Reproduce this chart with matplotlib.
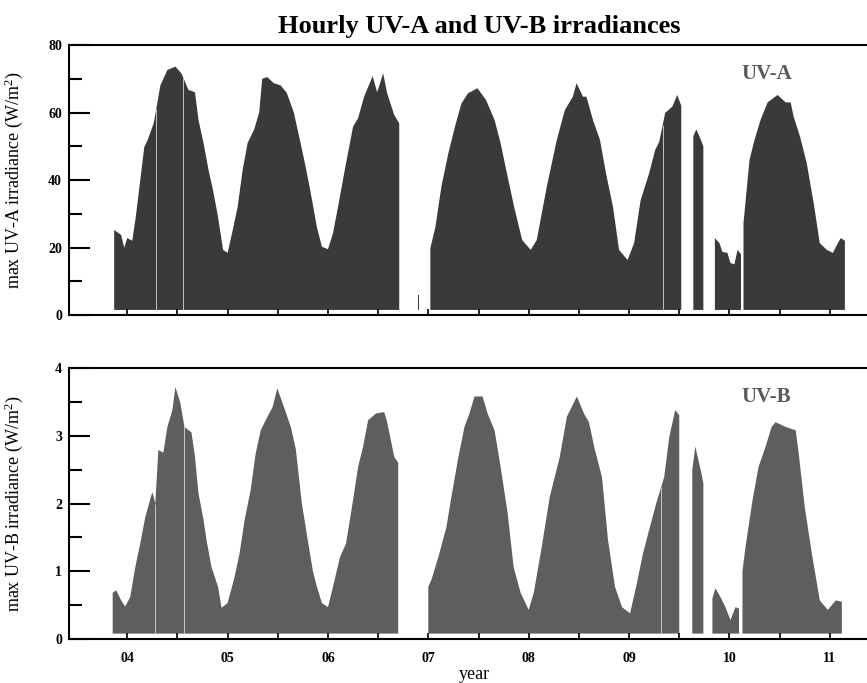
import matplotlib
matplotlib.use("Agg")
import matplotlib.pyplot as plt
import numpy as np

nan = np.nan

# upper envelope of hourly max UV-A (W/m2); nan = data gap
uva_t = [2003.87, 2003.94, 2003.97, 2004.00, 2004.05, 2004.085, 2004.12, 2004.17, 2004.20,
         2004.265, 2004.33, 2004.40, 2004.48, 2004.54, 2004.61, 2004.675, 2004.71, 2004.76,
         2004.81, 2004.855, 2004.905, 2004.955, 2005.00, 2005.05, 2005.10, 2005.15, 2005.20,
         2005.265, 2005.315, 2005.345, 2005.395, 2005.46, 2005.53, 2005.59, 2005.66, 2005.72,
         2005.77, 2005.82, 2005.89, 2005.94, 2006.00, 2006.05, 2006.10, 2006.18, 2006.25,
         2006.30, 2006.36, 2006.445, 2006.49, 2006.55, 2006.59, 2006.66, 2006.71, 2006.72,
         2006.900, 2006.906, 2006.91,
         2007.02, 2007.07, 2007.13, 2007.20, 2007.265, 2007.33, 2007.395, 2007.49, 2007.575,
         2007.66, 2007.72, 2007.79, 2007.855, 2007.935, 2008.02, 2008.08, 2008.18, 2008.28,
         2008.36, 2008.44, 2008.477, 2008.54, 2008.575, 2008.64, 2008.71, 2008.77, 2008.84,
         2008.90, 2008.985, 2009.05, 2009.115, 2009.20, 2009.26, 2009.30, 2009.36, 2009.43,
         2009.48, 2009.52, 2009.53,
         2009.64, 2009.67, 2009.70, 2009.74, 2009.75,
         2009.855, 2009.90, 2009.93, 2009.98, 2010.01, 2010.05, 2010.08, 2010.115, 2010.125,
         2010.14, 2010.20, 2010.25, 2010.31, 2010.38, 2010.48, 2010.56, 2010.61, 2010.64,
         2010.705, 2010.77, 2010.84, 2010.90, 2010.97, 2011.03, 2011.08, 2011.11, 2011.15]
uva_max = [25.2, 23.7, 19.9, 22.8, 22.0, 29.0, 37.6, 49.8, 51.6,
           56.9, 68.0, 72.6, 73.6, 71.6, 66.7, 66.0, 57.8, 51.0,
           43.0, 37.0, 29.0, 19.3, 18.4, 25.0, 32.0, 43.0, 51.0,
           55.0, 60.0, 70.0, 70.5, 68.7, 68.0, 65.8, 60.0, 51.9,
           45.0, 37.5, 26.0, 20.2, 19.5, 24.2, 32.0, 45.0, 55.8,
           58.3, 64.7, 70.8, 66.0, 71.6, 65.7, 59.3, 56.8, nan,
           5.9, 5.9, nan,
           19.8, 26.0, 38.0, 48.0, 55.8, 62.7, 65.7, 67.2, 63.7,
           57.8, 50.9, 41.0, 32.0, 22.2, 19.3, 22.2, 38.0, 51.9,
           60.7, 64.7, 68.7, 64.7, 64.7, 57.8, 51.9, 42.0, 32.0,
           19.3, 16.3, 21.3, 34.0, 42.0, 48.9, 51.3, 59.9, 61.7,
           65.2, 62.0, nan,
           53.0, 55.0, 53.0, 50.0, nan,
           22.8, 21.3, 18.7, 18.4, 15.4, 15.0, 19.3, 18.0, nan,
           27.2, 46.0, 51.9, 57.8, 63.0, 65.2, 63.0, 63.0, 58.7,
           52.7, 45.0, 33.0, 21.3, 19.3, 18.4, 21.3, 22.8, 22.0]
uva_floor = 1.5
uva_gaps = [2004.29, 2004.56, 2009.335]

# upper envelope of hourly max UV-B (W/m2)
uvb_t = [2003.855, 2003.89, 2003.94, 2003.98, 2004.03, 2004.08, 2004.13, 2004.18, 2004.25,
         2004.28, 2004.31, 2004.36, 2004.40, 2004.45, 2004.48, 2004.53, 2004.57, 2004.64,
         2004.675, 2004.71, 2004.76, 2004.79, 2004.84, 2004.905, 2004.94, 2005.00, 2005.07,
         2005.12, 2005.17, 2005.23, 2005.28, 2005.33, 2005.38, 2005.45, 2005.495, 2005.56,
         2005.63, 2005.68, 2005.74, 2005.80, 2005.85, 2005.89, 2005.94, 2006.00, 2006.05,
         2006.12, 2006.18, 2006.25, 2006.30, 2006.35, 2006.40, 2006.48, 2006.56, 2006.59,
         2006.66, 2006.70, 2006.71,
         2007.00, 2007.03, 2007.10, 2007.18, 2007.23, 2007.30, 2007.36, 2007.41, 2007.46,
         2007.54, 2007.59, 2007.66, 2007.72, 2007.79, 2007.85, 2007.92, 2008.00, 2008.05,
         2008.13, 2008.21, 2008.31, 2008.38, 2008.48, 2008.55, 2008.60, 2008.66, 2008.73,
         2008.79, 2008.86, 2008.93, 2009.01, 2009.07, 2009.14, 2009.20, 2009.27, 2009.35,
         2009.40, 2009.46, 2009.50, 2009.51,
         2009.63, 2009.66, 2009.72, 2009.74, 2009.75,
         2009.83, 2009.86, 2009.91, 2009.96, 2010.01, 2010.06, 2010.095, 2010.105,
         2010.13, 2010.16, 2010.23, 2010.29, 2010.36, 2010.42, 2010.46, 2010.56, 2010.66,
         2010.69, 2010.75, 2010.82, 2010.90, 2010.98, 2011.06, 2011.12]
uvb_max = [0.68, 0.72, 0.57, 0.48, 0.62, 1.06, 1.41, 1.80, 2.17,
           2.00, 2.79, 2.75, 3.13, 3.38, 3.72, 3.48, 3.13, 3.05,
           2.69, 2.15, 1.76, 1.46, 1.06, 0.77, 0.46, 0.53, 0.92,
           1.27, 1.76, 2.20, 2.74, 3.08, 3.23, 3.43, 3.70, 3.43,
           3.13, 2.80, 2.00, 1.45, 1.00, 0.77, 0.53, 0.47, 0.77,
           1.21, 1.41, 2.05, 2.54, 2.84, 3.23, 3.33, 3.35, 3.20,
           2.69, 2.60, nan,
           0.77, 0.87, 1.21, 1.65, 2.10, 2.69, 3.13, 3.33, 3.58,
           3.58, 3.33, 3.08, 2.54, 1.86, 1.06, 0.68, 0.43, 0.68,
           1.36, 2.10, 2.69, 3.28, 3.58, 3.33, 3.20, 2.79, 2.39,
           1.46, 0.77, 0.47, 0.38, 0.77, 1.27, 1.61, 2.00, 2.39,
           2.98, 3.38, 3.30, nan,
           2.50, 2.84, 2.45, 2.30, nan,
           0.60, 0.75, 0.62, 0.47, 0.28, 0.47, 0.45, nan,
           1.00, 1.36, 2.05, 2.54, 2.84, 3.13, 3.20, 3.13, 3.08,
           2.74, 1.95, 1.27, 0.57, 0.43, 0.57, 0.55]
uvb_floor = 0.08
uvb_gaps = [2004.28, 2004.565, 2009.32]

year_ticks = [2004, 2005, 2006, 2007, 2008, 2009, 2010, 2011]
year_labels = ["04", "05", "06", "07", "08", "09", "10", "11"]

plt.rcParams["font.family"] = ["Liberation Serif", "DejaVu Serif"]
plt.rcParams["mathtext.fontset"] = "custom"
plt.rcParams["mathtext.rm"] = "Liberation Serif"
plt.rcParams["mathtext.it"] = "Liberation Serif:italic"

fig = plt.figure(figsize=(8.67, 6.83), dpi=100)
ax1 = fig.add_axes([0.0796, 0.5388, 0.9354, 0.3953])
ax2 = fig.add_axes([0.0796, 0.0644, 0.9354, 0.3968])


def draw(ax, t, vmax, floor, gaps, color, ymax, yticks, yminor, ylabel, tag):
    t = np.array(t)
    vmax = np.array(vmax)
    ax.fill_between(t, floor, vmax, color=color, lw=0)
    ok = ~np.isnan(vmax)
    gh = np.interp(gaps, t[ok], vmax[ok])
    ax.vlines(gaps, floor, gh, color="#d8d8d8", lw=0.6)
    ax.set_xlim(2003.42, 2011.394)
    ax.set_ylim(0, ymax)
    ax.set_yticks(yticks)
    ax.set_yticks(yminor, minor=True)
    ax.set_xticks(year_ticks)
    ax.set_xticks([y + 0.5 for y in year_ticks], minor=True)
    ax.tick_params(axis="y", which="major", direction="in", length=15, width=1.5,
                   pad=5, labelsize=10)
    ax.tick_params(axis="y", which="minor", direction="in", length=9, width=1.5)
    ax.tick_params(axis="x", which="both", direction="in", length=4, width=1.2,
                   pad=9, labelsize=10)
    for lab in ax.get_yticklabels():
        lab.set_fontweight("bold")
    for s in ax.spines.values():
        s.set_linewidth(1.5)
    ax.set_ylabel(ylabel, fontsize=13)
    ax.yaxis.set_label_coords(-0.054, 0.5)
    ax.text(0.86, 0.893, tag, transform=ax.transAxes, ha="center", va="center",
            fontsize=15, fontweight="bold", color="#5a5a5a")


draw(ax1, uva_t, uva_max, uva_floor, uva_gaps, "#3a3a3a", 80,
     [0, 20, 40, 60, 80], [10, 30, 50, 70],
     "max UV-A irradiance (W/m$^{2}$)", "UV-A")
draw(ax2, uvb_t, uvb_max, uvb_floor, uvb_gaps, "#5e5e5e", 4,
     [0, 1, 2, 3, 4], [0.5, 1.5, 2.5, 3.5],
     "max UV-B irradiance (W/m$^{2}$)", "UV-B")

ax1.set_xticklabels([])
ax2.set_xticklabels(year_labels, fontweight="bold")
ax2.set_xlabel("year", fontsize=13, labelpad=1)

fig.text(0.553, 1 - 27 / 683, "Hourly UV-A and UV-B irradiances", ha="center",
         va="center", fontsize=19, fontweight="bold")

fig.savefig("out.png", dpi=100)
